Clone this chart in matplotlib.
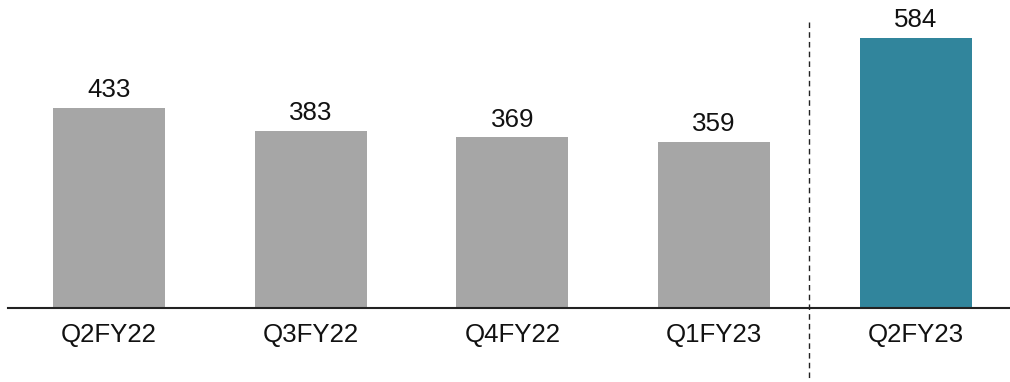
import matplotlib
matplotlib.use("Agg")
import matplotlib.pyplot as plt
from matplotlib.lines import Line2D

quarters = ["Q2FY22", "Q3FY22", "Q4FY22", "Q1FY23", "Q2FY23"]
values = [433, 383, 369, 359, 584]
colors = ["#A6A6A6", "#A6A6A6", "#A6A6A6", "#A6A6A6", "#31859C"]

plt.rcParams["font.family"] = ["Liberation Sans", "DejaVu Sans"]

W, H = 1010, 382
fig = plt.figure(figsize=(W / 100, H / 100), dpi=100)
ax = fig.add_axes([8 / W, 74 / H, 1 - 8 / W, 1 - 74 / H])

x = range(len(quarters))
bars = ax.bar(x, values, width=0.555, color=colors, zorder=2)

ax.set_xlim(-0.5, 4.466)
ax.set_ylim(0, 666)

for b, v in zip(bars, values):
    ax.annotate(f"{v}", (b.get_x() + b.get_width() / 2, v),
                xytext=(0, 4), textcoords="offset points",
                ha="center", va="bottom", fontsize=18.6, color="#111111")

ax.set_xticks(list(x))
ax.set_xticklabels(quarters, fontsize=18.6, color="#111111")
ax.tick_params(axis="x", length=0, pad=11)
ax.set_yticks([])

for s in ["top", "right", "left"]:
    ax.spines[s].set_visible(False)
ax.spines["bottom"].set_linewidth(1.5)
ax.spines["bottom"].set_color("#222222")

# dashed separator between past quarters and the current one
sep = Line2D([3.47, 3.47], [618, -170], color="#222222", lw=1.0,
             linestyle=(0, (4, 3)), clip_on=False, zorder=3)
ax.add_line(sep)

fig.savefig("out.png", dpi=100)
